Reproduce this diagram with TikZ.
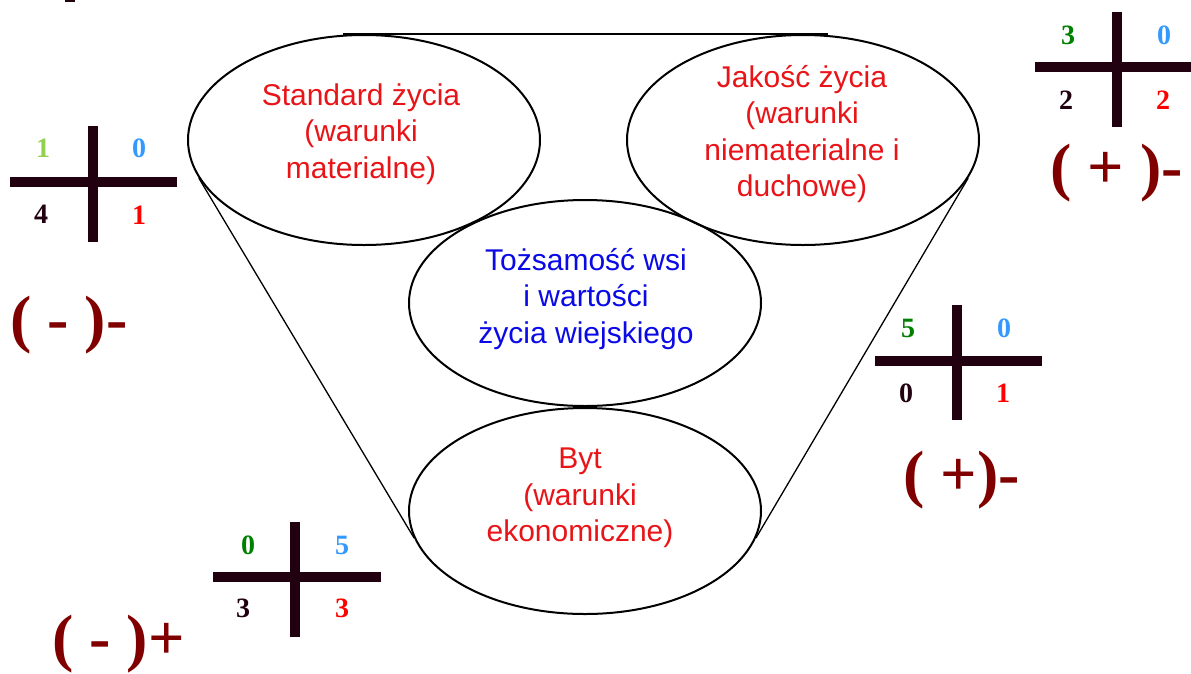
\documentclass[tikz,border=0pt]{standalone}
\usepackage{fontspec}
\setmainfont{Liberation Sans}
\newfontfamily\serifb{Liberation Serif}
\usetikzlibrary{shapes.geometric}
\definecolor{crossc}{RGB}{33,0,16}
\definecolor{lgreen}{RGB}{146,208,80}
\definecolor{dgreen}{RGB}{0,128,0}
\definecolor{lblue}{RGB}{51,153,255}
\definecolor{nred}{RGB}{255,0,0}
\definecolor{maroonc}{RGB}{128,0,0}
\definecolor{ered}{RGB}{232,20,24}
\definecolor{eblue}{RGB}{10,10,230}
\begin{document}
\begin{tikzpicture}[x=1pt,y=-1pt,
 oval/.style={ellipse,draw=black,line width=2pt,minimum width=352pt,minimum height=210pt,inner sep=0pt},
 lbl/.style={align=center,inner sep=0pt,font=\fontsize{30}{36.6}\selectfont},
 num/.style={inner sep=0pt,font=\serifb\bfseries\fontsize{28}{28}\selectfont},
 sign/.style={inner sep=0pt,anchor=base west,text=maroonc,font=\serifb\bfseries\fontsize{64}{64}\selectfont},
 bar/.style={line width=10pt,crossc},
 tang/.style={line width=1.3pt}]
\fill[white] (0,0) rectangle (1191,673);
\useasboundingbox (0,0) rectangle (1191,673);

% ellipses
\node[oval] (e1) at (364,140) {};
\node[oval] (e2) at (803,140) {};
\node[oval,minimum height=206pt] (e3) at (585,303) {};
\node[oval,minimum height=206pt] (e4) at (585,511) {};

% connectors
\draw[line width=2pt] ([xshift=-21pt]e1.north) -- ([xshift=25pt]e2.north);
\draw[tang] (e1.193) -- (e4.189);
\draw[tang] (e2.347) -- (e4.351);

% labels
\node[lbl,text=ered] (t1) at (361,134) {Standard życia\\(warunki\\materialne)};
\node[lbl,text=ered] (t2) at (802,134) {Jakość życia\\(warunki\\niematerialne i\\duchowe)};
\node[lbl,text=eblue] (t3) at (586,299) {Tożsamość wsi\\i wartości\\ życia wiejskiego};
\node[lbl,text=ered] (t4) at (580,498) {Byt\\(warunki\\ekonomiczne)};

% tiny mark at top
\fill[crossc] (65,0) rectangle (75,1.5);

% cross 1
\draw[bar] (10,182) -- (177,182);
\draw[bar] (93,126) -- (93,242);
\node[num,text=lgreen] (a1) at (43,148) {1};
\node[num,text=lblue] (a2) at (139,148) {0};
\node[num,text=crossc] (a3) at (41,214) {4};
\node[num,text=nred] (a4) at (139,215) {1};
\node[sign] (s1) at (10,340) {( - )-};

% cross 2
\draw[bar] (1035,67) -- (1191,67);
\draw[bar] (1116.5,12) -- (1116.5,127);
\node[num,text=dgreen] (b1) at (1068,35) {3};
\node[num,text=lblue] (b2) at (1164,35) {0};
\node[num,text=crossc] (b3) at (1066,100) {2};
\node[num,text=nred] (b4) at (1163,100) {2};
\node[sign] (s2) at (1050,188) {( + )-};

% cross 3
\draw[bar] (875,361) -- (1042,361);
\draw[bar] (957,305) -- (957,420);
\node[num,text=dgreen] (c1) at (908,328) {5};
\node[num,text=lblue] (c2) at (1004,328) {0};
\node[num,text=crossc] (c3) at (906,393) {0};
\node[num,text=nred] (c4) at (1003,393) {1};
\node[sign] (s3) at (903,495) {( +)-};

% cross 4
\draw[bar] (213,577) -- (381,577);
\draw[bar] (295,522) -- (295,637);
\node[num,text=dgreen] (d1) at (248,545) {0};
\node[num,text=lblue] (d2) at (342,545) {5};
\node[num,text=crossc] (d3) at (243,608) {3};
\node[num,text=nred] (d4) at (342,608) {3};
\node[sign] (s4) at (52,659) {( - )+};
\end{tikzpicture}
\end{document}
